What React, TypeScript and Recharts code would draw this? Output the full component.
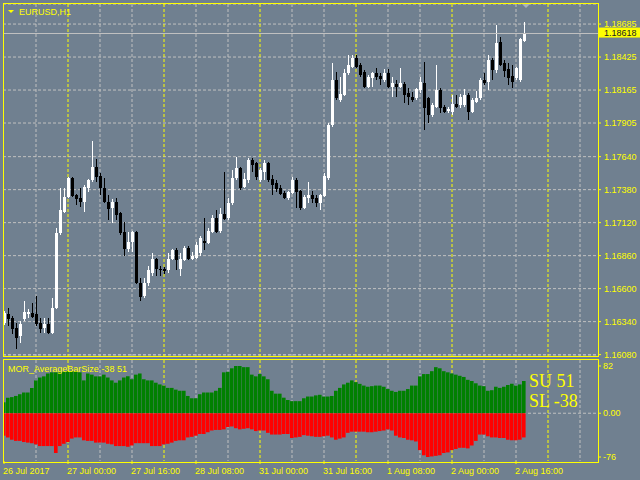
import React from "react";
import {
  ComposedChart,
  Bar,
  XAxis,
  YAxis,
  CartesianGrid,
  ReferenceLine,
} from "recharts";

// EURUSD H1 candles, 26 Jul 2017 08:00 .. 2 Aug 2017 18:00
const opens = [
  1.16332, 1.16403, 1.16372, 1.16293, 1.1623, 1.16364, 1.16403, 1.16411, 1.16403, 1.16332,
  1.16293, 1.16324, 1.16253, 1.16451, 1.17035, 1.172, 1.17319, 1.17469, 1.17335, 1.17311,
  1.17279, 1.1739, 1.17453, 1.17556, 1.17485, 1.1739, 1.17279, 1.17232, 1.17279, 1.17193,
  1.17043, 1.16916, 1.16964, 1.17043, 1.16648, 1.16545, 1.16648, 1.16727, 1.16837, 1.16758,
  1.16751, 1.16743, 1.16837, 1.16901, 1.16758, 1.16822, 1.16924, 1.16837, 1.16845, 1.16877,
  1.16979, 1.16956, 1.17043, 1.17153, 1.17051, 1.17185, 1.17153, 1.17272, 1.17469, 1.17548,
  1.17398, 1.17453, 1.17611, 1.17587, 1.17453, 1.17516, 1.17587, 1.17461, 1.17429, 1.1739,
  1.17351, 1.17311, 1.17351, 1.17453, 1.17366, 1.17232, 1.17311, 1.17335, 1.17311, 1.17272,
  1.17327, 1.17469, 1.17887, 1.18243, 1.18085, 1.18124, 1.18298, 1.18345, 1.18416, 1.18361,
  1.18306, 1.18187, 1.18258, 1.18298, 1.18274, 1.18243, 1.18298, 1.18187, 1.18211, 1.18187,
  1.18211, 1.1814, 1.18108, 1.181, 1.18164, 1.18219, 1.181, 1.17966, 1.18029, 1.18164,
  1.18029, 1.17998, 1.1799, 1.18053, 1.18045, 1.18045, 1.18124, 1.1799, 1.18069, 1.181,
  1.18243, 1.18227, 1.184, 1.18321, 1.18543, 1.18377, 1.18329, 1.18274, 1.18258, 1.18243,
  1.1855,
];
const highs = [
  1.16427, 1.16451, 1.16387, 1.16332, 1.16348, 1.16506, 1.16443, 1.1649, 1.16545, 1.16372,
  1.16372, 1.16372, 1.1653, 1.17074, 1.1739, 1.1739, 1.17477, 1.17477, 1.17343, 1.1739,
  1.17414, 1.17461, 1.17761, 1.17619, 1.17508, 1.17469, 1.17335, 1.17303, 1.17311, 1.172,
  1.17122, 1.17043, 1.17051, 1.17058, 1.16687, 1.1668, 1.16782, 1.16877, 1.16845, 1.16782,
  1.16774, 1.16877, 1.16916, 1.16924, 1.16877, 1.16932, 1.16932, 1.16885, 1.16964, 1.17011,
  1.17153, 1.17074, 1.17177, 1.17216, 1.17232, 1.17516, 1.17311, 1.17532, 1.17635, 1.17556,
  1.17508, 1.17627, 1.17627, 1.17595, 1.17548, 1.17611, 1.17595, 1.17493, 1.17453, 1.17414,
  1.17366, 1.17366, 1.17477, 1.17469, 1.17374, 1.17335, 1.17437, 1.17366, 1.17335, 1.17343,
  1.17508, 1.17903, 1.18377, 1.18306, 1.18266, 1.18329, 1.1844, 1.1844, 1.1844, 1.18377,
  1.18321, 1.18282, 1.18306, 1.18337, 1.18298, 1.18329, 1.18329, 1.18266, 1.18243, 1.18337,
  1.18227, 1.18179, 1.18148, 1.18179, 1.18266, 1.18385, 1.18108, 1.18061, 1.18361, 1.18179,
  1.18045, 1.18029, 1.18124, 1.18124, 1.18132, 1.18171, 1.1814, 1.181, 1.18156, 1.18258,
  1.18298, 1.1844, 1.18416, 1.18677, 1.18582, 1.184, 1.18377, 1.18361, 1.18345, 1.18574,
  1.187,
];
const lows = [
  1.16316, 1.16308, 1.16245, 1.16127, 1.16174, 1.16348, 1.16372, 1.16372, 1.16308, 1.16253,
  1.16253, 1.16245, 1.16245, 1.16443, 1.17019, 1.17193, 1.17311, 1.17319, 1.17256, 1.1724,
  1.172, 1.17358, 1.17437, 1.17437, 1.17335, 1.17272, 1.17137, 1.17114, 1.17137, 1.17019,
  1.16861, 1.16885, 1.16885, 1.1664, 1.16506, 1.1653, 1.16624, 1.16703, 1.16703, 1.16703,
  1.16719, 1.16727, 1.16822, 1.16743, 1.16703, 1.16814, 1.16822, 1.16822, 1.16837, 1.16861,
  1.16901, 1.16948, 1.17035, 1.17035, 1.17035, 1.17137, 1.17137, 1.17256, 1.17453, 1.17374,
  1.1739, 1.17429, 1.17516, 1.17453, 1.17437, 1.17453, 1.17437, 1.17335, 1.17358, 1.17335,
  1.17303, 1.17295, 1.17343, 1.17232, 1.17216, 1.17224, 1.17272, 1.17272, 1.1724, 1.17216,
  1.17319, 1.17453, 1.17872, 1.18085, 1.18069, 1.18116, 1.18282, 1.18337, 1.18337, 1.18266,
  1.18179, 1.18179, 1.18187, 1.18243, 1.18203, 1.18227, 1.18179, 1.18108, 1.18108, 1.18179,
  1.18061, 1.18045, 1.18069, 1.18085, 1.1814, 1.17848, 1.17903, 1.1795, 1.18021, 1.17982,
  1.17982, 1.17982, 1.17966, 1.18021, 1.18021, 1.18029, 1.17927, 1.17982, 1.18061, 1.18085,
  1.18203, 1.18164, 1.18243, 1.18298, 1.18353, 1.18266, 1.18203, 1.18179, 1.18243, 1.18227,
  1.18543,
];
const closes = [
  1.16411, 1.16364, 1.16285, 1.16214, 1.16324, 1.16419, 1.16419, 1.1638, 1.16324, 1.16285,
  1.16324, 1.16253, 1.16451, 1.17035, 1.17216, 1.17319, 1.17469, 1.17327, 1.17303, 1.17279,
  1.17398, 1.17453, 1.17556, 1.17477, 1.1739, 1.17279, 1.17224, 1.17279, 1.17177, 1.17035,
  1.16916, 1.16964, 1.17043, 1.16648, 1.16537, 1.16648, 1.16743, 1.16837, 1.16758, 1.16743,
  1.16735, 1.16837, 1.16901, 1.16822, 1.16837, 1.16924, 1.1683, 1.16861, 1.1694, 1.16995,
  1.16956, 1.17058, 1.17153, 1.17043, 1.17185, 1.17145, 1.17272, 1.17469, 1.17548, 1.1739,
  1.17461, 1.17611, 1.17572, 1.17477, 1.17532, 1.17587, 1.17453, 1.17414, 1.17382, 1.17343,
  1.17311, 1.17358, 1.17453, 1.17358, 1.17232, 1.17319, 1.17335, 1.17303, 1.17272, 1.17335,
  1.17485, 1.17887, 1.18243, 1.181, 1.18132, 1.18298, 1.18361, 1.18416, 1.18345, 1.18282,
  1.18187, 1.18266, 1.18298, 1.18266, 1.1825, 1.18298, 1.18187, 1.18219, 1.18187, 1.18219,
  1.18124, 1.18108, 1.18085, 1.18171, 1.18227, 1.18021, 1.17966, 1.18045, 1.18164, 1.18021,
  1.1799, 1.18014, 1.18053, 1.18029, 1.18108, 1.18124, 1.1799, 1.18085, 1.181, 1.18243,
  1.18219, 1.184, 1.18321, 1.18535, 1.18361, 1.18314, 1.18258, 1.18227, 1.18337, 1.18566,
  1.18618,
];

// MOR_AverageBarSize buffers
const upSize = [
  19, 27, 28, 30, 33, 36, 36, 44, 57, 62,
  64, 69, 71, 71, 71, 72, 73, 73, 73, 71,
  57, 69, 67, 64, 64, 67, 62, 57, 53, 57,
  62, 64, 59, 67, 69, 59, 57, 57, 53, 50,
  48, 44, 44, 41, 39, 39, 30, 26, 26, 33,
  36, 36, 36, 39, 44, 71, 72, 78, 82, 82,
  80, 80, 67, 64, 68, 64, 59, 39, 34, 34,
  27, 23, 21, 21, 21, 26, 29, 29, 31, 32,
  29, 29, 30, 39, 44, 50, 53, 57, 54, 51,
  48, 46, 47, 48, 48, 46, 42, 39, 37, 39,
  39, 42, 48, 48, 64, 68, 68, 73, 80, 78,
  73, 71, 69, 67, 65, 63, 58, 56, 52, 48,
  47, 39, 40, 46, 44, 46, 49, 51, 48, 50,
  56,
];
const downSize = [
  -39, -42, -46, -48, -48, -50, -51, -52, -54, -57,
  -57, -57, -57, -69, -57, -53, -50, -44, -42, -42,
  -47, -48, -48, -51, -51, -51, -53, -54, -57, -57,
  -57, -58, -56, -52, -52, -52, -52, -57, -57, -57,
  -54, -53, -51, -48, -47, -47, -42, -41, -39, -36,
  -36, -33, -30, -29, -29, -28, -24, -23, -26, -28,
  -27, -26, -28, -31, -30, -30, -34, -37, -37, -37,
  -36, -36, -43, -42, -41, -38, -39, -40, -41, -41,
  -40, -39, -42, -46, -44, -42, -34, -32, -32, -32,
  -32, -33, -33, -32, -31, -30, -28, -30, -39, -42,
  -43, -46, -47, -49, -64, -73, -76, -75, -74, -73,
  -69, -68, -64, -62, -60, -60, -61, -56, -48, -37,
  -37, -40, -42, -42, -43, -43, -46, -47, -47, -46,
  -42,
];
const suValue = 51;
const slValue = -38;

const priceTicks = [
  1.1608, 1.1634, 1.166, 1.1686, 1.1712, 1.1738, 1.1764, 1.17905, 1.18165, 1.18425, 1.18685,
];
const indTicks = [82, 0, -76];
const timeTicks = [0, 16, 32, 48, 64, 80, 96, 112, 128];
const timeLabels = [
  "26 Jul 2017",
  "27 Jul 00:00",
  "27 Jul 16:00",
  "28 Jul 08:00",
  "31 Jul 00:00",
  "31 Jul 16:00",
  "1 Aug 08:00",
  "2 Aug 00:00",
  "2 Aug 16:00",
];
// grid every 8 bars, day separators in yellow
const gridBars = [8, 24, 32, 48, 56, 72, 80, 96, 104, 120, 128, 144];
const dayBars = [16, 40, 64, 88, 112, 136];

const BG = "#708090";
const FG = "#ffff00";
const GRID = "#c0c0c0";
const FONT = "'Liberation Sans', Arial, sans-serif";
const X_DOMAIN = [-0.25, 148.5];

const rows = opens.map((o, i) => ({
  i,
  range: [lows[i], highs[i]],
  open: o,
  high: highs[i],
  low: lows[i],
  close: closes[i],
  up: upSize[i],
  dn: downSize[i],
}));

const lastClose = closes[closes.length - 1];

const Candle = (props: any) => {
  const { x, y, width, height, payload } = props;
  const { open, close, high, low } = payload;
  const yTop = Math.min(y, y + height);
  const h = Math.abs(height);
  const py = (v: number) => (high === low ? yTop : yTop + ((high - v) / (high - low)) * h);
  const cx = Math.round(x + width / 2);
  const color = close >= open ? "#ffffff" : "#000000";
  const wTop = Math.round(yTop);
  const wBot = Math.round(yTop + h);
  const bTop = Math.round(py(Math.max(open, close)));
  const bBot = Math.round(py(Math.min(open, close)));
  return (
    <g shapeRendering="crispEdges">
      <rect x={cx} y={wTop} width={1} height={Math.max(1, wBot - wTop)} fill={color} />
      <rect x={cx - 1} y={bTop} width={3} height={Math.max(1, bBot - bTop)} fill={color} />
    </g>
  );
};

// current bid line, drawn crisp in light gray
const PriceLine = (props: any) => {
  const { x1, x2, y1 } = props;
  if (x1 == null || y1 == null) return null;
  const yy = Math.round(y1) + 0.5;
  return <line x1={x1} x2={x2} y1={yy} y2={yy} stroke={GRID} strokeWidth={1} />;
};

const PriceTag = (props: any) => {
  const { viewBox } = props;
  if (!viewBox) return null;
  const right = viewBox.x + viewBox.width;
  return (
    <g>
      <rect x={right + 1} y={viewBox.y - 5} width={42} height={10} fill={FG} />
      <text
        x={right + 6}
        y={viewBox.y}
        dy="0.355em"
        fill="#202020"
        fontSize={9}
        fontFamily={FONT}
      >
        {lastClose.toFixed(5)}
      </text>
    </g>
  );
};

const TimeTick = (props: any) => {
  const { x, y, payload } = props;
  const k = timeTicks.indexOf(payload.value);
  return (
    <text x={x - 1} y={y} dy="0.71em" textAnchor="start" fill={FG} fontSize={9} fontFamily={FONT}>
      {timeLabels[k]}
    </text>
  );
};

const tickStyle = { fill: FG, fontSize: 9, fontFamily: FONT };

const App = () => {
  return (
    <div
      style={{
        position: "absolute",
        left: 0,
        top: 0,
        width: 640,
        height: 480,
        background: BG,
        overflow: "hidden",
      }}
    >
      <div style={{ position: "absolute", left: 0, top: 0 }}>
        <ComposedChart
          width={640}
          height={364}
          data={rows}
          margin={{ top: 4, right: 0, bottom: 8, left: 3 }}
        >
          <CartesianGrid
            stroke={GRID}
            strokeDasharray="3 2"
            verticalValues={gridBars}
          />
          <CartesianGrid
            stroke={FG}
            strokeDasharray="3 2"
            horizontal={false}
            verticalValues={dayBars}
          />
          <XAxis type="number" dataKey="i" domain={X_DOMAIN} allowDataOverflow hide />
          <YAxis
            orientation="right"
            type="number"
            width={42}
            domain={[1.16069, 1.18843]}
            allowDataOverflow
            ticks={priceTicks}
            interval={0}
            tickFormatter={(v: number) => v.toFixed(5)}
            tick={tickStyle}
            tickSize={3}
            tickMargin={3}
            tickLine={{ stroke: FG }}
            axisLine={false}
          />
          <ReferenceLine
            y={lastClose}
            stroke={GRID}
            shape={PriceLine}
            label={<PriceTag />}
          />
          <Bar dataKey="range" barSize={3} shape={Candle} isAnimationActive={false} />
        </ComposedChart>
      </div>

      <div style={{ position: "absolute", left: 0, top: 358 }}>
        <ComposedChart
          width={640}
          height={122}
          data={rows}
          stackOffset="sign"
          margin={{ top: 2, right: 0, bottom: 0, left: 3 }}
        >
          <CartesianGrid
            stroke={GRID}
            strokeDasharray="3 2"
            horizontalValues={[0]}
            verticalValues={gridBars}
          />
          <CartesianGrid
            stroke={FG}
            strokeDasharray="3 2"
            horizontal={false}
            verticalValues={dayBars}
          />
          <XAxis
            type="number"
            dataKey="i"
            domain={X_DOMAIN}
            allowDataOverflow
            ticks={timeTicks}
            interval={0}
            height={19}
            tick={<TimeTick />}
            tickSize={3}
            tickMargin={4}
            tickLine={{ stroke: FG }}
            axisLine={false}
          />
          <YAxis
            orientation="right"
            type="number"
            width={42}
            domain={[-82.9, 92.4]}
            allowDataOverflow
            ticks={indTicks}
            interval={0}
            tickFormatter={(v: number) => (v === 0 ? "0.00" : String(v))}
            tick={tickStyle}
            tickSize={3}
            tickMargin={2}
            tickLine={{ stroke: FG }}
            axisLine={false}
          />
          <Bar dataKey="up" stackId="h" barSize={4} fill="#008000" isAnimationActive={false} />
          <Bar dataKey="dn" stackId="h" barSize={4} fill="#ff0000" isAnimationActive={false} />
        </ComposedChart>
      </div>

      <svg
        width={640}
        height={480}
        style={{ position: "absolute", left: 0, top: 0, pointerEvents: "none" }}
      >
        <rect x={3.5} y={3.5} width={595} height={353} fill="none" stroke={FG} />
        <rect x={3.5} y={359.5} width={595} height={103} fill="none" stroke={FG} />
        <polygon points="8,10 14,10 11,13" fill={FG} />
        <text x={19} y={15} fill={FG} fontSize={9} fontFamily={FONT}>
          EURUSD,H1
        </text>
        <polygon points="522,4 530,4 526,8" fill="#a9b2bb" />
        <text x={8} y={372} fill={FG} fontSize={9} fontFamily={FONT}>
          {`MOR_AverageBarSize ${slValue} ${suValue}`}
        </text>
        <text x={529} y={387} fill={FG} fontSize={18} fontFamily="'Liberation Serif', 'Times New Roman', serif">
          {`SU ${suValue}`}
        </text>
        <text x={529} y={407} fill={FG} fontSize={18} fontFamily="'Liberation Serif', 'Times New Roman', serif">
          {`SL ${slValue}`}
        </text>
      </svg>
    </div>
  );
};

export default App;
